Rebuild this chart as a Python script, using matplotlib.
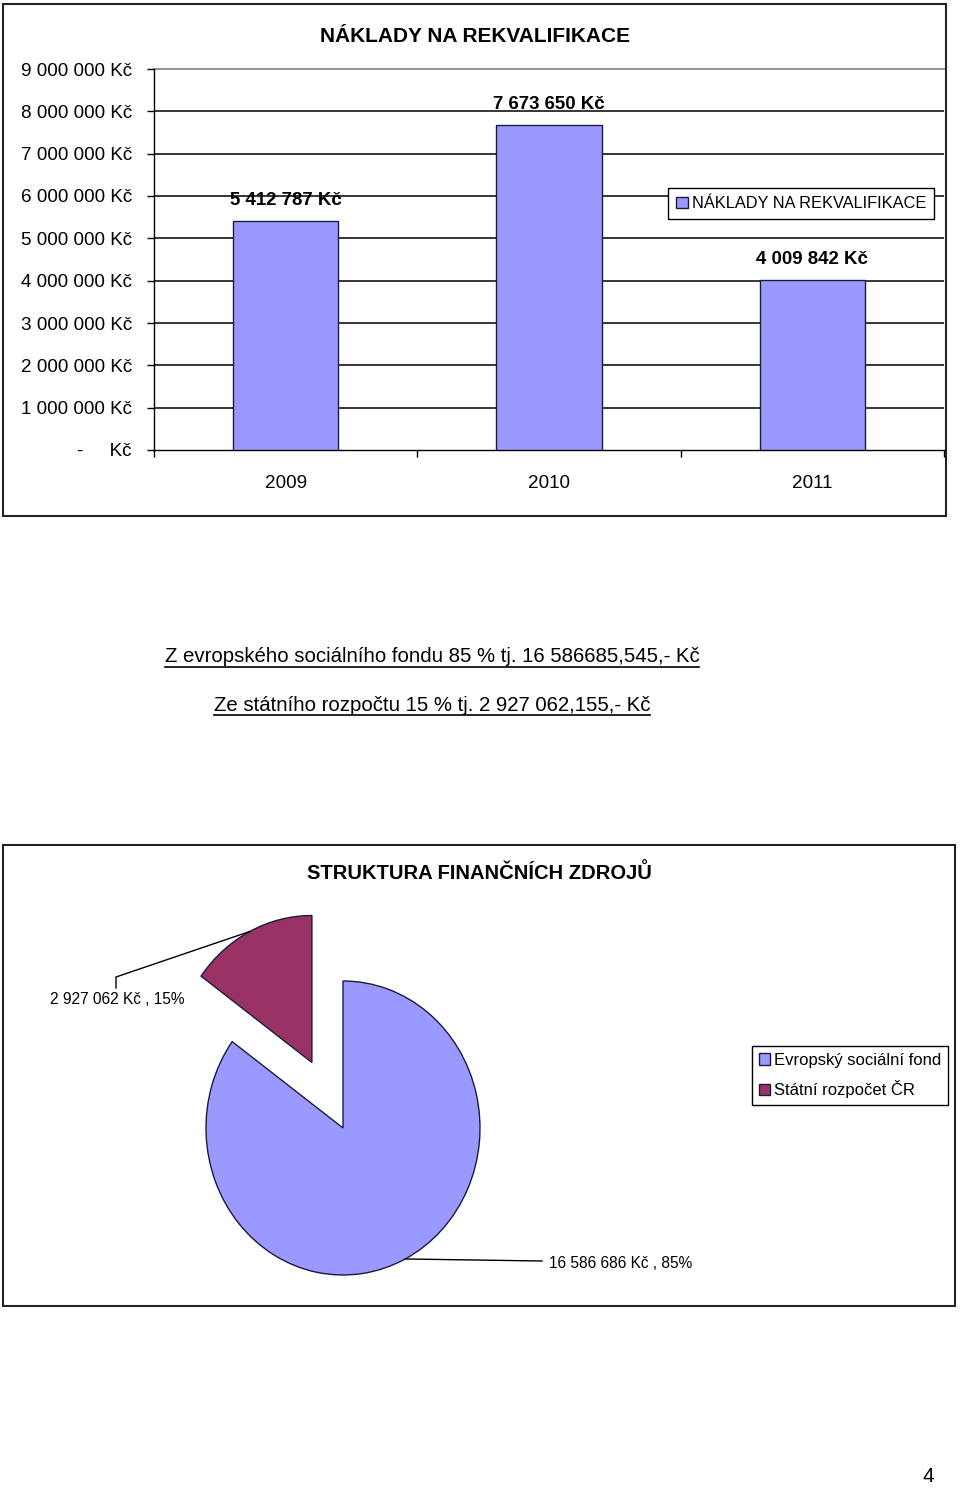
import matplotlib
matplotlib.use("Agg")
import matplotlib.pyplot as plt
from matplotlib.patches import Rectangle
from matplotlib.lines import Line2D
import numpy as np

plt.rcParams['font.family'] = ['Liberation Sans', 'DejaVu Sans']

# ---------------- data ----------------
years = ["2009", "2010", "2011"]
costs = [5412787, 7673650, 4009842]
cost_labels = ["5 412 787 Kč", "7 673 650 Kč", "4 009 842 Kč"]
y_ticks = [0, 1000000, 2000000, 3000000, 4000000, 5000000, 6000000, 7000000, 8000000, 9000000]
y_tick_labels = ["-     Kč", "1 000 000 Kč", "2 000 000 Kč", "3 000 000 Kč", "4 000 000 Kč",
                 "5 000 000 Kč", "6 000 000 Kč", "7 000 000 Kč", "8 000 000 Kč", "9 000 000 Kč"]
bar_title = "NÁKLADY NA REKVALIFIKACE"
series_name = "NÁKLADY NA REKVALIFIKACE"

source_names = ["Evropský sociální fond", "Státní rozpočet ČR"]
source_values = [16586686, 2927062]
source_labels = ["16 586 686 Kč , 85%", "2 927 062 Kč , 15%"]
pie_title = "STRUKTURA FINANČNÍCH ZDROJŮ"
note_lines = ["Z evropského sociálního fondu 85 % tj. 16 586685,545,- Kč",
              "Ze státního rozpočtu 15 % tj. 2 927 062,155,- Kč"]
page_number = "4"

BLUE = '#9999FF'
PLUM = '#993366'
EDGE = '#1a1a3a'

W, H = 960, 1488
fig = plt.figure(figsize=(9.6, 14.88), dpi=100)


def fx(px):
    return px / W


def fy(py):
    return 1 - py / H


# frames around the two charts
for (x0, y0, x1, y1) in [(3, 4, 946, 516), (3, 845, 955, 1306)]:
    fig.add_artist(Rectangle((fx(x0), fy(y1)), fx(x1) - fx(x0), fy(y0) - fy(y1),
                             transform=fig.transFigure, fill=False, lw=1.5, ec='#222222'))

# ---------------- bar chart ----------------
ax = fig.add_axes([fx(154), fy(450), fx(944) - fx(154), fy(69) - fy(450)])
xpos = np.arange(len(years))
ax.bar(xpos, costs, width=0.4, color=BLUE, edgecolor=EDGE, linewidth=1,
       label=series_name, zorder=3)
ax.set_xlim(-0.5, len(years) - 0.5)
ax.set_ylim(y_ticks[0], y_ticks[-1])
ax.set_yticks(y_ticks)
ax.set_yticklabels(y_tick_labels, fontsize=13.6)
ax.tick_params(axis='y', length=5, width=1, pad=11, direction='out')

ax.set_xticks(np.arange(len(years) + 1) - 0.5)
ax.set_xticklabels([])
ax.tick_params(axis='x', which='major', length=5, width=1, direction='out')
ax.set_xticks(xpos, minor=True)
ax.set_xticklabels(years, minor=True, fontsize=13.6)
ax.tick_params(axis='x', which='minor', length=0, pad=18)

for v in y_ticks[1:-1]:
    ax.axhline(v, color='black', lw=1.1, zorder=1)
ax.axhline(y_ticks[-1], color='#8a8a8a', lw=1.3, zorder=1, clip_on=False)
for s in ['top', 'right']:
    ax.spines[s].set_visible(False)
for s in ['left', 'bottom']:
    ax.spines[s].set_linewidth(1)
    ax.spines[s].set_color('black')

for xi, v, lbl in zip(xpos, costs, cost_labels):
    ax.annotate(lbl, xy=(xi, v), xytext=(0, 15), textcoords='offset points',
                ha='center', va='center', fontsize=13.4, fontweight='bold', zorder=5)

leg = ax.legend(loc='upper left', bbox_to_anchor=(fx(668), fy(188)),
                bbox_transform=fig.transFigure, fontsize=11.8, frameon=True,
                fancybox=False, edgecolor='black', framealpha=1,
                handlelength=0.7, handleheight=0.7, handletextpad=0.25,
                borderpad=0.5, borderaxespad=0)
leg.get_frame().set_linewidth(1)

fig.text(fx(475), fy(37), bar_title, ha='center', va='center',
         fontsize=15, fontweight='bold')

# ---------------- notes ----------------
note_texts = []
for py, line in zip([657, 705], note_lines):
    note_texts.append(fig.text(fx(432), fy(py), line, ha='center', va='center', fontsize=14.7))

# ---------------- pie chart ----------------
CX, CY, RX, RY = 343, 1128, 137, 147
AX0, AX1, AY0, AY1 = 150, 540, 880, 1290
axp = fig.add_axes([fx(AX0), fy(AY1), fx(AX1) - fx(AX0), fy(AY0) - fy(AY1)])
wedges, _ = axp.pie(source_values, colors=[BLUE, PLUM], startangle=90,
                    counterclock=False, explode=[0, 0.5],
                    wedgeprops=dict(edgecolor=EDGE, linewidth=1))
axp.set_aspect('auto')
axp.set_xlim((AX0 - CX) / RX, (AX1 - CX) / RX)
axp.set_ylim((CY - AY1) / RY, (CY - AY0) / RY)


def pdata(px, py):
    return (px - CX) / RX, (CY - py) / RY


anchors = []
for w in wedges:
    ang = np.deg2rad((w.theta1 + w.theta2) / 2)
    cx, cy = w.center
    anchors.append((cx + w.r * np.cos(ang), cy + w.r * np.sin(ang)))

# blue (85%) label
ax0, ay0 = anchors[0]
ex, ey = pdata(542, 1261)
axp.plot([ax0, ex], [ay0, ey], color='black', lw=1, clip_on=False)
tx, ty = pdata(549, 1263)
axp.text(tx, ty, source_labels[0], ha='left', va='center', fontsize=11.2, clip_on=False)

# plum (15%) label
ax1_, ay1_ = anchors[1]
e1x, e1y = pdata(116, 977)
e2x, e2y = pdata(116, 988)
axp.plot([ax1_, e1x, e2x], [ay1_, e1y, e2y], color='black', lw=1, clip_on=False)
tx, ty = pdata(117, 1000)
axp.text(tx, ty, source_labels[1], ha='center', va='center', fontsize=11.2, clip_on=False)

leg2 = axp.legend(wedges, source_names, loc='upper left', bbox_to_anchor=(fx(752), fy(1046)),
                  bbox_transform=fig.transFigure, fontsize=12, frameon=True,
                  fancybox=False, edgecolor='black', framealpha=1,
                  handlelength=0.7, handleheight=0.7, handletextpad=0.25,
                  borderpad=0.4, labelspacing=0.75, borderaxespad=0)
leg2.get_frame().set_linewidth(1)

fig.text(fx(479), fy(873), pie_title, ha='center', va='center',
         fontsize=14.5, fontweight='bold')

fig.text(fx(928), fy(1476), page_number, ha='center', va='center', fontsize=15)

# underline notes
fig.canvas.draw()
renderer = fig.canvas.get_renderer()
for t, py in zip(note_texts, [667, 715]):
    bb = t.get_window_extent(renderer)
    fig.add_artist(Line2D([bb.x0 / W, bb.x1 / W], [fy(py), fy(py)],
                          transform=fig.transFigure, color='black', lw=1.2))

fig.savefig("out.png", dpi=100)
